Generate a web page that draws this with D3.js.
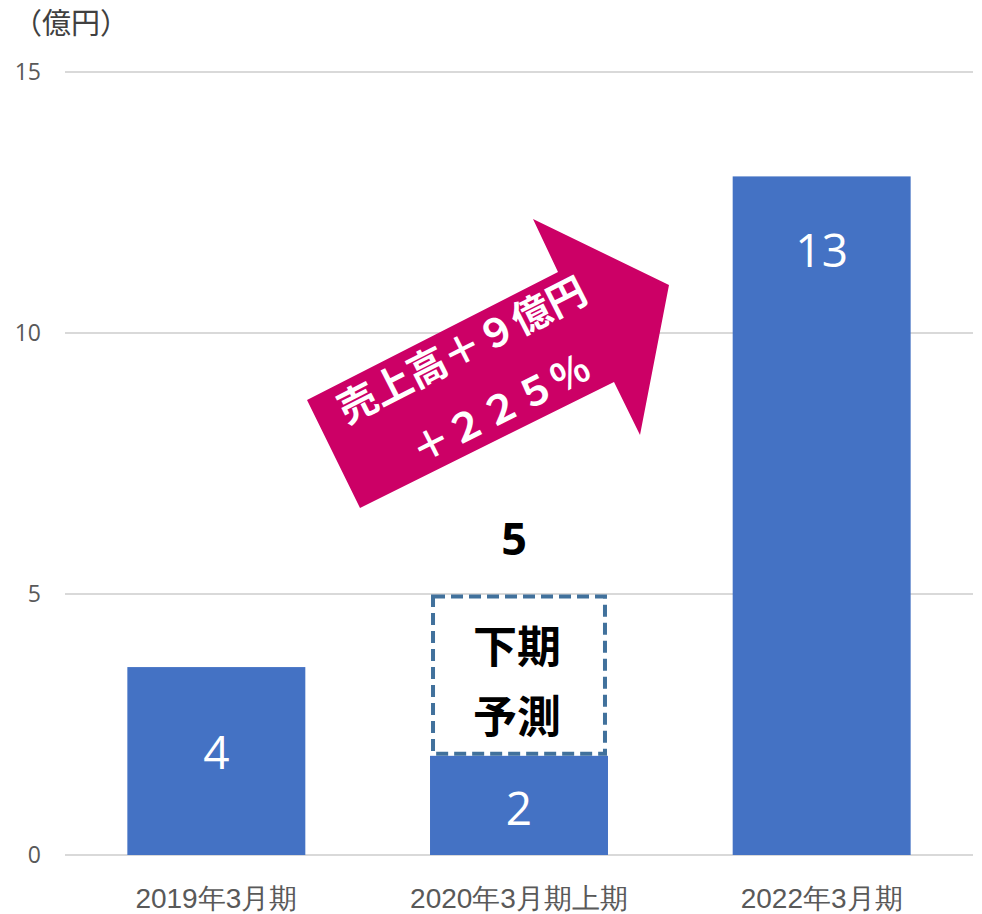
<!DOCTYPE html>
<html>
<head>
    <meta charset="utf-8">
    <title>売上高</title>
    <script src="https://cdn.jsdelivr.net/npm/d3@7"></script>
    <style>
        body { margin: 0; background: #fff; }
        svg { display: block; font-family: "Noto Sans CJK JP", "Noto Sans", sans-serif; }
        .grid line { stroke: #d9d9d9; stroke-width: 2px; }
        .tick text { fill: #595959; }
    </style>
</head>
<body>
<svg id="chart" width="982" height="914"></svg>
<script>
// data
var categories = ["2019年3月期", "2020年3月期上期", "2022年3月期"];
var values = [3.6, 1.9, 13];
var valueLabels = ["4", "2", "13"];
var forecastTotal = 4.95;       // 2020年3月期 通期予測
var forecastLabel = "5";
var forecastText = ["下期", "予測"];
var yTicks = [0, 5, 10, 15];
var arrowText = ["売上高＋９億円", "＋２２５％"];

var W = 982, H = 914;
var margin = {top: 72, right: 9, bottom: 59, left: 65};

var svg = d3.select("#chart");

var x = d3.scaleBand()
    .domain(categories)
    .range([margin.left, W - margin.right])
    .paddingInner(0.412)
    .paddingOuter(0.206);

var y = d3.scaleLinear()
    .domain([0, 15])
    .range([H - margin.bottom, margin.top]);

// gridlines
svg.append("g")
    .attr("class", "grid")
    .selectAll("line")
    .data(yTicks)
    .enter()
    .append("line")
    .attr("x1", margin.left)
    .attr("x2", W - margin.right)
    .attr("y1", function (d) { return y(d); })
    .attr("y2", function (d) { return y(d); });

// y axis labels
var yAxis = d3.axisLeft(y).tickValues(yTicks).tickSize(0).tickPadding(0);
svg.append("g")
    .attr("transform", "translate(41,0)")
    .call(yAxis)
    .call(function (g) { g.select(".domain").remove(); })
    .selectAll("text")
    .style("font-size", "23px")
    .style("font-family", "'Open Sans', 'Noto Sans', sans-serif");

// x axis labels
var xAxis = d3.axisBottom(x).tickSize(0).tickPadding(0);
svg.append("g")
    .attr("transform", "translate(0," + (H - margin.bottom + 33) + ")")
    .call(xAxis)
    .call(function (g) { g.select(".domain").remove(); })
    .selectAll("text")
    .style("font-size", "28px");

// unit label
svg.append("text")
    .attr("x", 13)
    .attr("y", 34)
    .attr("fill", "#404040")
    .style("font-size", "29px")
    .text("（億円）");

// bars
svg.selectAll("rect.bar")
    .data(values)
    .enter()
    .append("rect")
    .attr("class", "bar")
    .attr("x", function (d, i) { return x(categories[i]); })
    .attr("y", function (d) { return y(d); })
    .attr("width", x.bandwidth())
    .attr("height", function (d) { return y(0) - y(d); })
    .attr("fill", "#4472c4");

// value labels (white, inside bars)
var labelY = [y(values[0] / 2) - 9, y(values[1] / 2) + 3, y(values[2]) + 74];
svg.selectAll("text.val")
    .data(valueLabels)
    .enter()
    .append("text")
    .attr("class", "val")
    .attr("x", function (d, i) { return x(categories[i]) + x.bandwidth() / 2; })
    .attr("y", function (d, i) { return labelY[i]; })
    .attr("dy", "0.36em")
    .attr("text-anchor", "middle")
    .attr("fill", "#fff")
    .style("font-size", "46px")
    .style("font-family", "'Open Sans', 'Noto Sans', sans-serif")
    .text(function (d) { return d; });

// forecast dashed box for 2020 second half
var fx = x(categories[1]);
var fw = x.bandwidth();
svg.append("rect")
    .attr("x", fx + 3)
    .attr("y", y(forecastTotal))
    .attr("width", fw - 6)
    .attr("height", y(values[1]) - y(forecastTotal) - 2)
    .attr("fill", "#fff")
    .attr("stroke", "#41719c")
    .attr("stroke-width", 4)
    .attr("stroke-dasharray", "12,6");

svg.selectAll("text.fc")
    .data(forecastText)
    .enter()
    .append("text")
    .attr("class", "fc")
    .attr("x", fx + fw / 2 - 2)
    .attr("y", function (d, i) { return y(forecastTotal) + 66 + i * 70; })
    .attr("text-anchor", "middle")
    .attr("font-weight", "bold")
    .style("font-size", "44px")
    .text(function (d) { return d; });

svg.append("text")
    .attr("x", fx + fw / 2 - 5)
    .attr("y", y(forecastTotal) - 42)
    .attr("text-anchor", "middle")
    .attr("font-weight", "bold")
    .style("font-size", "45px")
    .style("font-family", "'Open Sans', 'Noto Sans', sans-serif")
    .text(forecastLabel);

// growth arrow annotation
var arrowPts = [[307, 400], [558, 272], [533, 219], [669, 285], [640, 435], [614, 382], [360, 508]];
svg.append("polygon")
    .attr("points", arrowPts.map(function (p) { return p.join(","); }).join(" "))
    .attr("fill", "#cc0066");

var at = svg.append("g")
    .attr("transform", "translate(481,383) rotate(-27)");
at.selectAll("text")
    .data(arrowText)
    .enter()
    .append("text")
    .attr("x", function (d, i) { return i === 0 ? -2 : 6; })
    .attr("y", function (d, i) { return i === 0 ? -24 : 46; })
    .attr("text-anchor", "middle")
    .attr("fill", "#fff")
    .attr("font-weight", "bold")
    .style("font-size", "39px")
    .text(function (d) { return d; });
</script>
</body>
</html>
